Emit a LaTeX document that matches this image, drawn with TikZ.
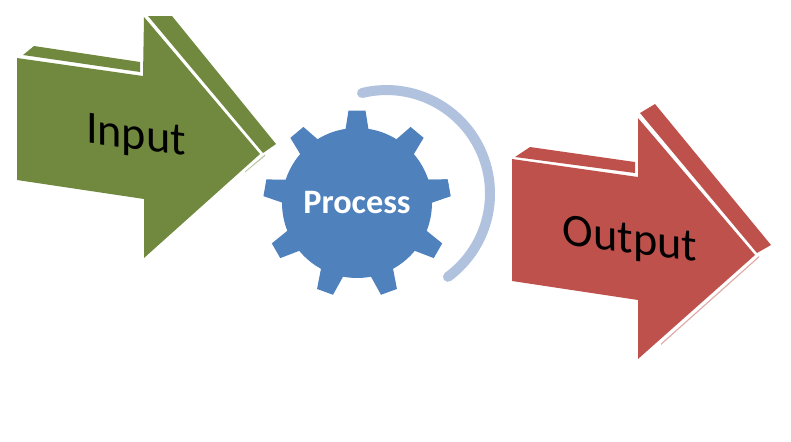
\documentclass[tikz,border=0pt]{standalone}
\usepackage{fontspec}
\setmainfont{Carlito}
\definecolor{inputgreen}{HTML}{71893F}
\definecolor{gearblue}{HTML}{4F81BD}
\definecolor{ringblue}{HTML}{B0C2DE}
\definecolor{outputred}{HTML}{BE514C}
\tikzset{
  label/.style={text=black,font=\fontsize{26.3}{30}\selectfont,yslant=-0.13,transform shape},
  gear/.style={circle,fill=gearblue,minimum size=3cm,inner sep=0pt,text=white,font=\bfseries\fontsize{19.5}{23}\selectfont},
}
\begin{document}
\begin{tikzpicture}[x=0.02cm,y=0.02cm]
  \useasboundingbox (0,0) rectangle (791,441);
  % input arrow
  \fill[inputgreen] (17,383) -- (143,365) -- (144,424) -- (260,287) -- (144,183) -- (144,242) -- (17,261) -- cycle;
  \fill[inputgreen] (23,386) -- (34,395) -- (140,379) -- (140,369) -- cycle;
  \fill[inputgreen] (148,425) -- (172,425) -- (276,297) -- (263,288) -- cycle;
  \fill[inputgreen,opacity=0.5] (265,286.5) -- (245,269.5) -- (245,268.5) -- (265,285) -- cycle;
  \node[label] (input) at (136,303) {Input};
  % gear
  \node[gear] (process) at (357,238) {Process};
  \foreach \a in {10,50,...,370}
    \fill[gearblue,shift={(357,237)},rotate=\a] (65,-13) -- (93.5,-8.5) -- (93.5,8.5) -- (65,13) -- cycle;
  \draw[ringblue,line width=0.2cm,line cap=round] (362,348) arc[start angle=103.7,end angle=-53.6,radius=103.5];
  % output arrow
  \fill[outputred] (512,282) -- (638,264) -- (638,323) -- (755,186) -- (638,82) -- (638,141) -- (512,160) -- cycle;
  \fill[outputred] (515,284) -- (530,294) -- (635,279) -- (635,268) -- cycle;
  \fill[outputred] (640,328) -- (655,337) -- (771,196) -- (757,188) -- cycle;
  \fill[outputred,opacity=0.5] (759,185) -- (661,97.5) -- (661,96) -- (759,183.5) -- cycle;
  \node[label] (output) at (630,199) {Output};
\end{tikzpicture}
\end{document}
